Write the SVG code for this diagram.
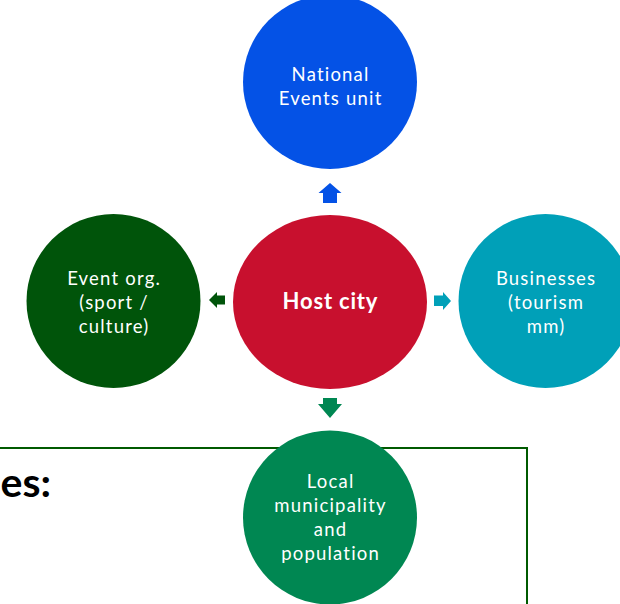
<svg xmlns="http://www.w3.org/2000/svg" width="620" height="604" viewBox="0 0 620 604">
<style>
.lbl{font-family:Lato,"Open Sans","Liberation Sans",sans-serif;font-size:18.5px;letter-spacing:1.2px;fill:#ffffff;text-anchor:middle}
.bold{font-weight:bold;font-size:22px;letter-spacing:0.8px}
.hdr{font-family:Lato,"Liberation Sans",sans-serif;font-size:41px;font-weight:bold;fill:#000;text-anchor:end}
</style>
<rect width="620" height="604" fill="#ffffff"/>
<g id="box">
<path d="M0 448 H527 V604" fill="none" stroke="#005a00" stroke-width="2"/>
<text class="hdr" x="51" y="497">es:</text>
</g>
<g id="connectors">
<path d="M330 183 L341.5 193 H337 V203 H323 V193 H318.5 Z" fill="#0452e6"/>
<path d="M209 300 L217 292 V295.5 H225 V304.5 H217 V308 Z" fill="#00540a"/>
<path d="M451 301 L443 292 V295.5 H434 V306 H443 V310 Z" fill="#00a0b8"/>
<path d="M330 418 L342 404 H337 V398 H323 V404 H318 Z" fill="#008752"/>
</g>
<g id="national">
<circle cx="330" cy="82" r="87" fill="#0452e6"/>
<text class="lbl" x="330.6" y="81">National</text>
<text class="lbl" x="330.6" y="105">Events unit</text>
</g>
<g id="host">
<ellipse cx="330" cy="302" rx="97" ry="87" fill="#c8102e"/>
<text class="lbl bold" x="330.4" y="309">Host city</text>
</g>
<g id="eventorg">
<circle cx="113.5" cy="301" r="87" fill="#00540a"/>
<text class="lbl" x="114.1" y="285">Event org.</text>
<text class="lbl" x="114.1" y="309">(sport /</text>
<text class="lbl" x="114.1" y="333">culture)</text>
</g>
<g id="businesses">
<circle cx="545.5" cy="301" r="87" fill="#00a0b8"/>
<text class="lbl" x="546.1" y="285">Businesses</text>
<text class="lbl" x="546.1" y="309">(tourism</text>
<text class="lbl" x="546.1" y="333">mm)</text>
</g>
<g id="local">
<circle cx="330" cy="517.5" r="87" fill="#008752"/>
<text class="lbl" x="330.6" y="488">Local</text>
<text class="lbl" x="330.6" y="512">municipality</text>
<text class="lbl" x="330.6" y="536">and</text>
<text class="lbl" x="330.6" y="560">population</text>
</g>
</svg>
